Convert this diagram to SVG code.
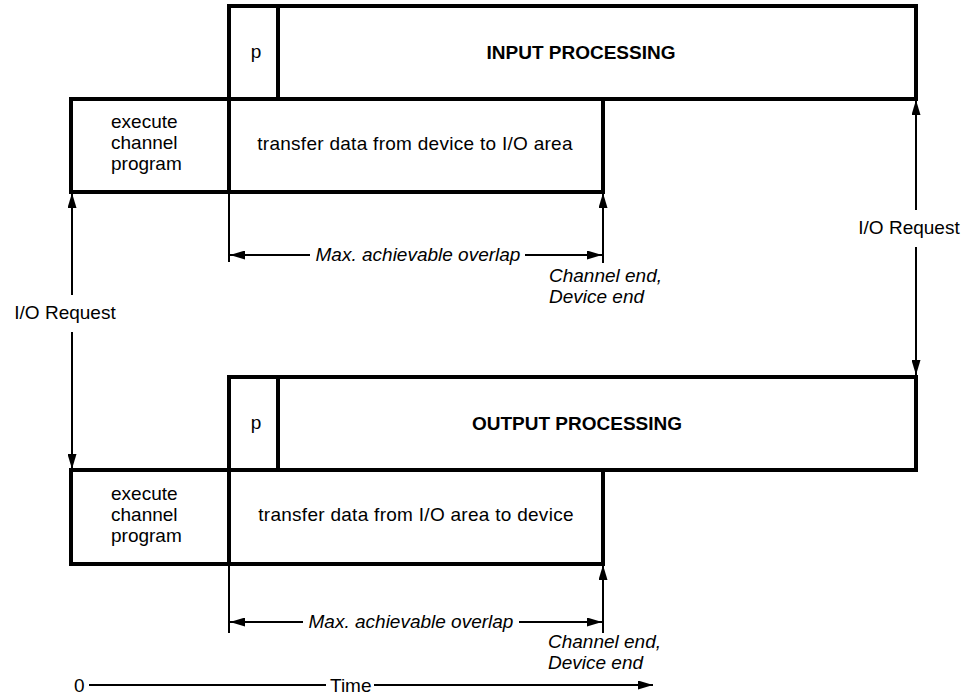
<svg xmlns="http://www.w3.org/2000/svg" width="974" height="695" viewBox="0 0 974 695">
  <defs>
    <marker id="arrow" markerUnits="userSpaceOnUse" markerWidth="15" markerHeight="9" refX="15" refY="4.5" orient="auto">
      <path d="M0,0 L15,4.5 L0,9 Z" fill="#000"/>
    </marker>
    <style>
      .box { fill: none; stroke: #000; stroke-width: 4; }
      .div { stroke: #000; stroke-width: 4; }
      .thin { fill: none; stroke: #000; stroke-width: 2; }
      .arr { fill: none; stroke: #000; stroke-width: 2; marker-end: url(#arrow); }
      text { font-family: "Liberation Sans", Arial, sans-serif; font-size: 19px; fill: #000; }
      .bold { font-weight: bold; }
      .it { font-style: italic; }
      .mid { text-anchor: middle; }
      .wide { letter-spacing: 0.28px; }
    </style>
  </defs>
  <rect width="974" height="695" fill="#fff"/>

  <!-- input cycle -->
  <g id="input-processing">
    <rect class="box" x="229" y="6" width="687" height="93"/>
    <line class="div" x1="278" y1="6" x2="278" y2="99"/>
    <text class="mid" x="256" y="58">p</text>
    <text class="bold mid" x="581" y="59">INPUT PROCESSING</text>
  </g>
  <g id="input-channel">
    <rect class="box" x="71" y="99" width="532" height="93"/>
    <line class="div" x1="229" y1="99" x2="229" y2="192"/>
    <text x="111" y="128">execute</text>
    <text x="111" y="149">channel</text>
    <text x="111" y="170">program</text>
    <text class="mid wide" x="415" y="150">transfer data from device to I/O area</text>
  </g>

  <!-- output cycle -->
  <g id="output-processing">
    <rect class="box" x="229" y="377" width="687" height="93"/>
    <line class="div" x1="278" y1="377" x2="278" y2="470"/>
    <text class="mid" x="256" y="429">p</text>
    <text class="bold mid" x="577" y="430">OUTPUT PROCESSING</text>
  </g>
  <g id="output-channel">
    <rect class="box" x="71" y="470" width="532" height="94"/>
    <line class="div" x1="229" y1="470" x2="229" y2="564"/>
    <text x="111" y="500">execute</text>
    <text x="111" y="521">channel</text>
    <text x="111" y="542">program</text>
    <text class="mid wide" x="416" y="521">transfer data from I/O area to device</text>
  </g>

  <!-- timing annotations -->
  <g id="connectors">
    <!-- input overlap -->
    <line class="thin" x1="229" y1="192" x2="229" y2="262"/>
    <line class="arr" x1="603" y1="263" x2="603" y2="193"/>
    <line class="arr" x1="310" y1="255" x2="230" y2="255"/>
    <line class="arr" x1="525" y1="255" x2="602" y2="255"/>
    <!-- output overlap -->
    <line class="thin" x1="229" y1="564" x2="229" y2="633"/>
    <line class="arr" x1="603" y1="633" x2="603" y2="565"/>
    <line class="arr" x1="303" y1="622" x2="230" y2="622"/>
    <line class="arr" x1="519" y1="622" x2="602" y2="622"/>
    <!-- left I/O request -->
    <line class="arr" x1="72" y1="295" x2="72" y2="193"/>
    <line class="arr" x1="72" y1="332" x2="72" y2="469"/>
    <!-- right I/O request -->
    <line class="arr" x1="916" y1="210" x2="916" y2="100"/>
    <line class="arr" x1="916" y1="247" x2="916" y2="375"/>
    <!-- time axis -->
    <line class="thin" x1="89" y1="685" x2="326" y2="685"/>
    <line class="arr" x1="374" y1="685" x2="653" y2="685"/>
  </g>

  <g id="labels">
    <text class="it mid" x="418" y="261">Max. achievable overlap</text>
    <text class="it" x="549" y="282">Channel end,</text>
    <text class="it" x="549" y="303">Device end</text>
    <text class="it mid" x="411" y="628">Max. achievable overlap</text>
    <text class="it" x="548" y="648">Channel end,</text>
    <text class="it" x="548" y="669">Device end</text>
    <text class="mid" x="909" y="234">I/O Request</text>
    <text class="mid" x="65" y="319">I/O Request</text>
    <text x="74" y="692">0</text>
    <text x="330" y="692">Time</text>
  </g>
</svg>
